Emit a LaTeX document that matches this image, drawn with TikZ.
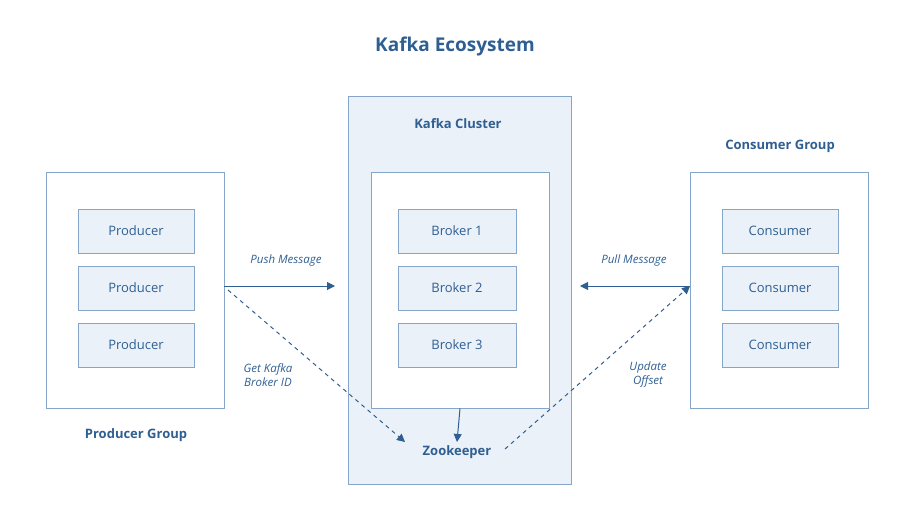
\documentclass[tikz,border=0pt]{standalone}
\usepackage{fontspec}
\setmainfont{Open Sans}
\usetikzlibrary{arrows.meta}
\definecolor{dk}{HTML}{2F5F92}
\definecolor{bd}{HTML}{85A6C9}
\definecolor{lf}{HTML}{EBF1F8}
\begin{document}
\begin{tikzpicture}[x=1pt,y=-1pt,
  grp/.style={draw=bd,line width=1pt},
  item/.style={draw=bd,line width=1pt,fill=lf,minimum width=116pt,minimum height=44pt,text=dk,font=\fontsize{13}{15}\selectfont,inner sep=0pt},
  ttl/.style={text=dk,font=\bfseries\fontsize{13}{15}\selectfont},
  lbl/.style={text=dk,font=\itshape\fontsize{11.5}{14}\selectfont,align=center},
  arr/.style={draw=dk,line width=1pt,-{Triangle[length=8pt,width=8pt]}},
  darr/.style={arr,dash pattern=on 4pt off 4pt}]
\useasboundingbox (0,0) rectangle (899,514);
\node[text=dk,font=\bfseries\fontsize{19}{22}\selectfont] (title) at (455,47) {Kafka Ecosystem};
% producer group
\node[grp,minimum width=178pt,minimum height=236pt,inner sep=0pt] (pg) at (135,290) {};
\node[item] (p1) at (136,231) {Producer};
\node[item] (p2) at (136,288) {Producer};
\node[item] (p3) at (136,345) {Producer};
\node[ttl] (pgl) at (136,435) {Producer Group};
% cluster
\node[grp,fill=lf,minimum width=223pt,minimum height=388pt,inner sep=0pt] (kc) at (459.5,290) {};
\node[ttl] (kcl) at (458,124) {Kafka Cluster};
\node[grp,fill=white,minimum width=178pt,minimum height=236pt,inner sep=0pt] (ki) at (460,290) {};
\node[item,minimum width=118pt] (b1) at (457,231) {Broker 1};
\node[item,minimum width=118pt] (b2) at (457,288) {Broker 2};
\node[item,minimum width=118pt] (b3) at (457,345) {Broker 3};
\node[ttl] (zk) at (457,452) {Zookeeper};
% consumer group
\node[grp,minimum width=178pt,minimum height=236pt,inner sep=0pt] (cg) at (779,290) {};
\node[item] (c1) at (780,231) {Consumer};
\node[item] (c2) at (780,288) {Consumer};
\node[item] (c3) at (780,345) {Consumer};
\node[ttl] (cgl) at (780,146) {Consumer Group};
% arrows
\coordinate (pe) at (224,286);
\coordinate (ce) at (690,286);
\draw[arr] (pe) -- (335,286);
\draw[arr] (ce) -- (580,286);
\node[lbl] (pm) at (286,261) {Push Message};
\node[lbl] (plm) at (634,261) {Pull Message};
\draw[arr] (ki.south) -- (zk.north);
\draw[darr] (228,290) -- (405,442);
\draw[darr] (505,449) -- (ce);
\node[lbl] (gk) at (268,375) {Get Kafka\\Broker ID};
\node[lbl] (uo) at (648,375) {Update\\Offset};
\end{tikzpicture}
\end{document}
